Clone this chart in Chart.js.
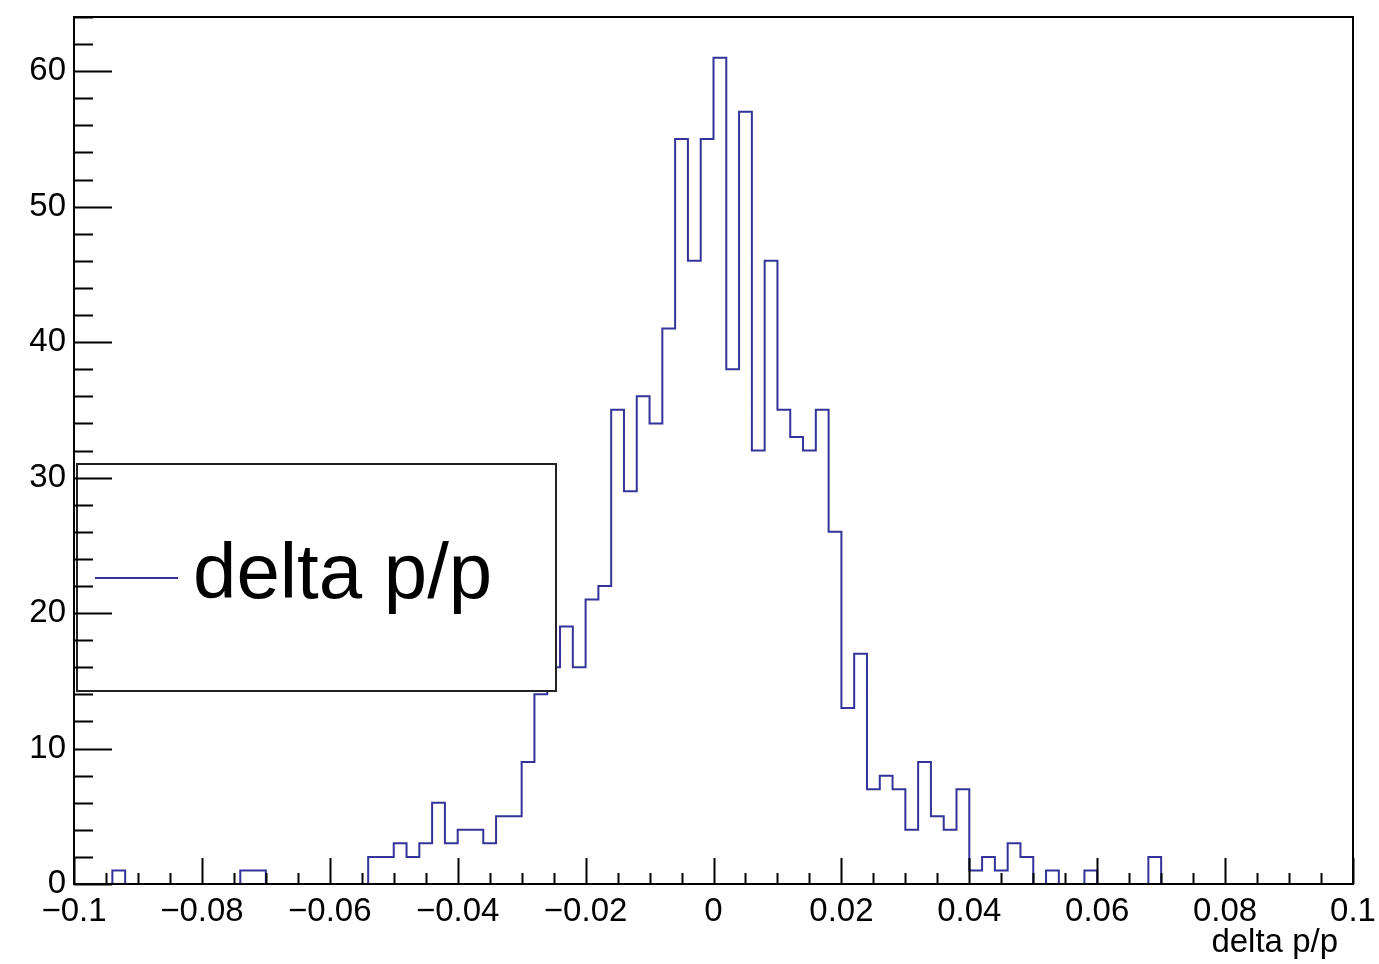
<!DOCTYPE html>
<html>
<head>
<meta charset="utf-8">
<script src="https://cdn.jsdelivr.net/npm/chart.js@4"></script>
<style>
  html, body { margin: 0; padding: 0; background: #fff; }
  #wrap { width: 1379px; height: 964px; }
</style>
</head>
<body>
<div id="wrap"><canvas id="hist"></canvas></div>
<script>
// histogram: 100 bins from -0.1 to 0.1
const xMin = -0.1;
const xMax = 0.1;
const binWidth = 0.002;
const counts = [
  0, 0, 0, 1, 0, 0, 0, 0, 0, 0,
  0, 0, 0, 1, 1, 0, 0, 0, 0, 0,
  0, 0, 0, 2, 2, 3, 2, 3, 6, 3,
  4, 4, 3, 5, 5, 9, 14, 16, 19, 16,
  21, 22, 35, 29, 36, 34, 41, 55, 46, 55,
  61, 38, 57, 32, 46, 35, 33, 32, 35, 26,
  13, 17, 7, 8, 7, 4, 9, 5, 4, 7,
  1, 2, 1, 3, 2, 0, 1, 0, 0, 1,
  0, 0, 0, 0, 2, 0, 0, 0, 0, 0,
  0, 0, 0, 0, 0, 0, 0, 0, 0, 0
];
const seriesLabel = "delta p/p";
const xTitle = "delta p/p";
const yMax = 64;

const lineColor = "#333399";
const FONT = "'Liberation Sans', Arial, Helvetica, sans-serif";

// step points: left edge of each bin, plus closing point at the upper edge
const points = counts.map((c, i) => ({ x: xMin + i * binWidth, y: c }));
points.push({ x: xMax, y: 0 });

function fmtX(v){
    const r = Math.round(v * 1000) / 1000;
    if (r === 0) return "0";
    return (r < 0 ? "\u2212" : "") + Math.abs(r).toString();
}

// ROOT style frame + inward ticks + legend box + axis title
const rootFrame = {
    id: "rootFrame",
    afterDraw(chart){
        const ctx = chart.ctx;
        const xs = chart.scales.x, ys = chart.scales.y;
        const a = chart.chartArea;
        ctx.save();

        // legend box (opaque, covers the line)
        const lx0 = 77, ly0 = 464, lx1 = 556, ly1 = 691;
        ctx.fillStyle = "#fff";
        ctx.fillRect(lx0, ly0, lx1 - lx0, ly1 - ly0);
        ctx.strokeStyle = "#222";
        ctx.lineWidth = 2;
        ctx.strokeRect(lx0, ly0, lx1 - lx0, ly1 - ly0);
        ctx.strokeStyle = lineColor;
        ctx.lineWidth = 2;
        ctx.beginPath();
        ctx.moveTo(95, 578);
        ctx.lineTo(178, 578);
        ctx.stroke();
        ctx.fillStyle = "#000";
        ctx.font = "78px " + FONT;
        ctx.textBaseline = "alphabetic";
        ctx.textAlign = "left";
        ctx.fillText(chart.data.datasets[0].label, 193, 598);

        // x axis title, right aligned under the axis
        ctx.font = "33px " + FONT;
        ctx.textAlign = "right";
        ctx.textBaseline = "middle";
        ctx.fillText(xTitle, 1338, 943);

        // frame
        ctx.strokeStyle = "#000";
        ctx.lineWidth = 2;
        ctx.strokeRect(a.left, a.top, a.right - a.left, a.bottom - a.top);

        // y ticks (inside)
        ctx.beginPath();
        for (let v = 0; v <= yMax; v += 2){
            const py = Math.round(ys.getPixelForValue(v)) + 0.5;
            const len = (v % 10 === 0) ? 38 : 19;
            ctx.moveTo(a.left, py);
            ctx.lineTo(a.left + len, py);
        }
        // x ticks (inside)
        for (let i = 0; i <= 40; i++){
            const v = xMin + i * 0.005;
            const px = Math.round(xs.getPixelForValue(v)) + 0.5;
            const len = (i % 4 === 0) ? 26 : 11;
            ctx.moveTo(px, a.bottom);
            ctx.lineTo(px, a.bottom - len);
        }
        ctx.stroke();
        ctx.restore();
    }
};

new Chart(document.getElementById("hist"), {
    type: "line",
    data: {
        datasets: [{
            label: seriesLabel,
            data: points,
            stepped: "before",
            borderColor: lineColor,
            borderWidth: 2,
            pointRadius: 0,
            fill: false
        }]
    },
    options: {
        responsive: true,
        maintainAspectRatio: false,
        animation: false,
        layout: { padding: { top: 17, right: 26, left: 0, bottom: 0 } },
        plugins: {
            legend: { display: false },
            tooltip: { enabled: false }
        },
        scales: {
            x: {
                type: "linear",
                min: xMin,
                max: xMax,
                afterFit(s){ s.height = 80; s.paddingLeft = 0; s.paddingRight = 0; },
                grid: { display: false, drawTicks: false },
                border: { display: false },
                ticks: {
                    stepSize: 0.02,
                    padding: 8,
                    maxRotation: 0,
                    autoSkip: false,
                    color: "#000",
                    font: { family: FONT, size: 33 },
                    callback: v => fmtX(v)
                }
            },
            y: {
                min: 0,
                max: yMax,
                afterFit(s){ s.width = 74; s.paddingTop = 0; s.paddingBottom = 0; },
                grid: { display: false, drawTicks: false },
                border: { display: false },
                ticks: {
                    stepSize: 10,
                    includeBounds: false,
                    padding: 8,
                    color: "#000",
                    font: { family: FONT, size: 33 }
                }
            }
        }
    },
    plugins: [rootFrame]
});
</script>
</body>
</html>
